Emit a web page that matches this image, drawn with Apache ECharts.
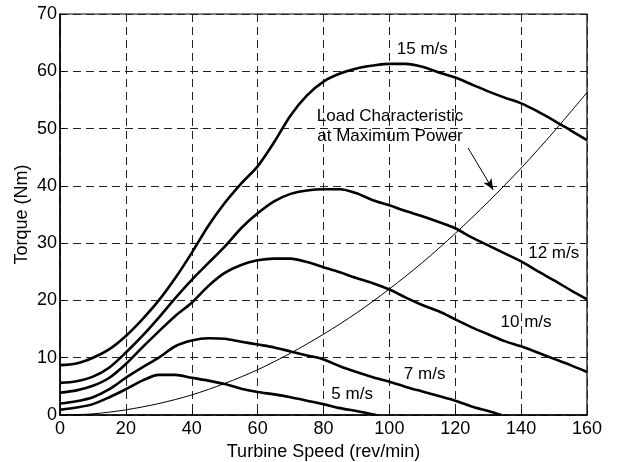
<!DOCTYPE html>
<html>
<head>
<meta charset="utf-8">
<script src="https://cdn.jsdelivr.net/npm/echarts@6/dist/echarts.min.js"></script>
<style>html,body{margin:0;padding:0;background:#fff}#c{width:626px;height:462px}</style>
</head>
<body>
<div id="c"></div>
<script>
var speed = [0,5,10,15,20,25,30,35,40,45,50,55,60,65,70,75,80,85,90,95,100,105,110,115,120,125,130,135,140,145,150,155,160];
var torque15 = [8.7,9.0,10.0,11.5,13.8,16.7,20.0,23.9,28.3,33.0,37.0,40.4,43.4,47.6,52.3,55.8,58.2,59.6,60.5,61.0,61.3,61.3,60.8,59.8,58.9,57.7,56.5,55.4,54.4,53.0,51.4,49.7,48.0];
var torque12 = [5.6,5.9,6.7,8.3,10.9,13.8,17.0,20.4,23.6,26.5,29.4,32.6,35.2,37.3,38.6,39.2,39.4,39.4,38.7,37.5,36.6,35.6,34.7,33.7,32.6,31.0,29.6,28.2,26.8,25.1,23.5,21.8,20.2];
var torque10 = [3.9,4.3,5.1,6.5,8.9,11.8,14.6,17.3,19.6,22.5,24.8,26.2,27.0,27.3,27.3,26.7,25.8,24.9,23.9,23.0,21.9,20.5,19.2,18.1,16.7,15.3,14.1,12.9,12.0,10.9,9.8,8.7,7.5];
var speed7 = [0,5,10,15,20,25,30,35,40,45,50,55,60,65,70,75,80,85,90,95,100,105,110,115,120,125,130,134];
var torque7 = [2.0,2.4,3.1,4.5,6.5,8.3,10.0,12.0,13.0,13.4,13.3,12.8,12.3,11.8,11.1,10.4,9.7,8.5,7.5,6.6,5.8,4.9,4.1,3.3,2.5,1.5,0.7,0];
var speed5 = [0,5,10,15,20,25,30,35,40,45,50,55,60,65,70,75,80,85,90,96];
var torque5 = [0.9,1.3,1.9,3.1,4.5,6.0,7.0,7.0,6.5,6.0,5.4,4.6,4.0,3.6,3.1,2.5,1.9,1.2,0.7,0];
var loadSpeed = [0,10,20,30,40,50,60,70,80,90,100,110,120,130,140,150,160];
var loadTorque = [0,0.2,0.9,2.0,3.5,5.5,7.9,10.8,14.1,17.8,22.0,26.6,31.7,37.2,43.1,49.5,56.3];
var labelTexts = ['15 m/s','12 m/s','10 m/s','7 m/s','5 m/s','Load Characteristic','at Maximum Power'];
var labelX = [110,149.9,141.5,110.7,88.7,100.2,100.2];
var labelY = [63.9,28.3,16.1,7.1,3.6,52.2,48.6];
var arrowFrom = [123.9,46.6];
var arrowTo = [131.5,39.3];

function pairs(xs, ys){ return xs.map(function(x,i){ return [x, ys[i]]; }); }

var FONT = 'Liberation Sans, Arial, sans-serif';
var thick = {color:'#000', width:2.6};
function curve(name, xs, ys){
  return {name:name, type:'line', data:pairs(xs,ys), smooth:0.3, showSymbol:false, symbol:'none',
          lineStyle:thick, itemStyle:{color:'#000'}, z:3, animation:false};
}

var chart = echarts.init(document.getElementById('c'), null, {renderer:'canvas'});
chart.setOption({
  backgroundColor:'#fff',
  animation:false,
  grid:{left:60, right:39, top:14, bottom:47, outerBoundsMode:'none', containLabel:false,
        show:true, borderColor:'#000', borderWidth:1.2, backgroundColor:'transparent'},
  xAxis:{type:'value', min:0, max:160, interval:20,
    name:'Turbine Speed (rev/min)', nameLocation:'middle', nameGap:28, nameMoveOverlap:false,
    nameTextStyle:{fontFamily:FONT, fontSize:18, color:'#000'},
    axisLine:{show:true, lineStyle:{color:'#000', width:1.5}},
    axisTick:{show:true, inside:true, length:5, lineStyle:{color:'#000'}},
    axisLabel:{fontFamily:FONT, fontSize:18, color:'#000', margin:5, showMaxLabel:true, showMinLabel:true},
    splitLine:{show:true, lineStyle:{color:'#222', width:1, type:[8,5]}}
  },
  yAxis:{type:'value', min:0, max:70, interval:10,
    name:'Torque (Nm)', nameLocation:'middle', nameGap:29, nameMoveOverlap:false,
    nameTextStyle:{fontFamily:FONT, fontSize:18, color:'#000'},
    axisLine:{show:true, lineStyle:{color:'#000', width:1.5}},
    axisTick:{show:true, inside:true, length:5, lineStyle:{color:'#000'}},
    axisLabel:{fontFamily:FONT, fontSize:18, color:'#000', margin:3},
    splitLine:{show:true, lineStyle:{color:'#222', width:1, type:[8,5]}}
  },
  series:[
    curve('15 m/s', speed, torque15),
    curve('12 m/s', speed, torque12),
    curve('10 m/s', speed, torque10),
    curve('7 m/s', speed7, torque7),
    curve('5 m/s', speed5, torque5),
    {name:'Load', type:'line', data:pairs(loadSpeed, loadTorque), smooth:0.3, showSymbol:false, symbol:'none',
     lineStyle:{color:'#000', width:1}, z:2,
     markLine:{silent:true, symbol:['none','arrow'], symbolSize:[7,11],
       lineStyle:{color:'#000', width:1, type:'solid'}, label:{show:false},
       data:[[{coord:arrowFrom},{coord:arrowTo}]]}
    }
  ]
});
var texts = labelTexts.map(function(t,i){
  var p = chart.convertToPixel({gridIndex:0}, [labelX[i], labelY[i]]);
  return {type:'text', x:p[0], y:p[1], z:100, silent:true,
    style:{text:t, fill:'#000', font:'17px ' + FONT, align:'center', verticalAlign:'middle'}};
});
chart.setOption({graphic:texts});
</script>
</body>
</html>
